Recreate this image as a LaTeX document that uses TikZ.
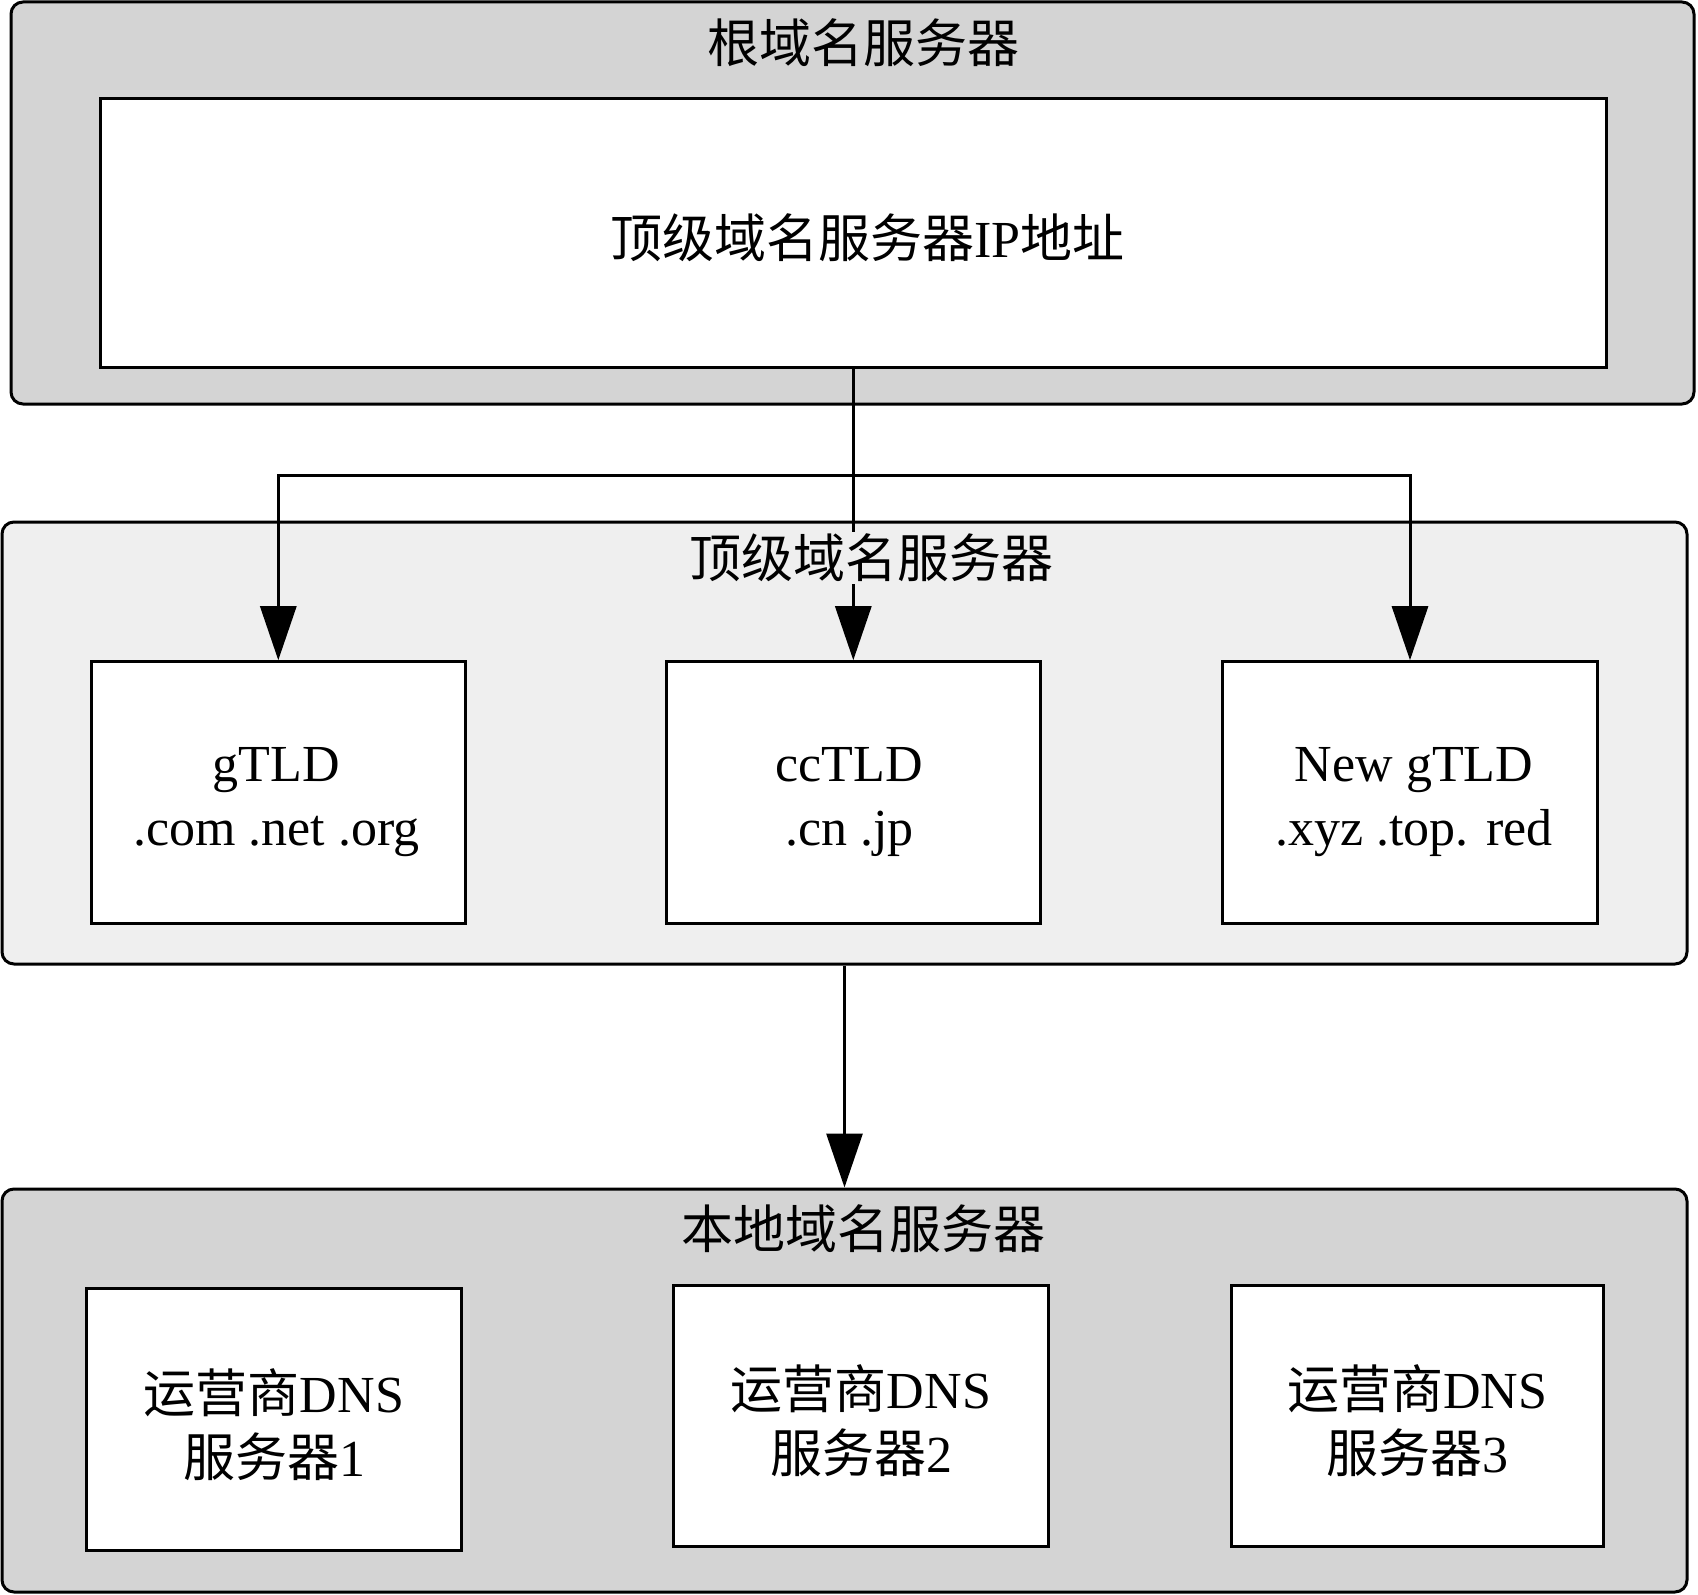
\documentclass[tikz,border=0pt]{standalone}
\usepackage{fontspec}
\setmainfont{Liberation Serif}
\newfontfamily\cjk{Noto Sans CJK SC}
\usetikzlibrary{arrows.meta}

\definecolor{darkpanel}{RGB}{212,212,212}
\definecolor{lightpanel}{RGB}{239,239,239}

\begin{document}
\begin{tikzpicture}[x=0.5pt,y=-0.5pt,
  every node/.style={font=\fontsize{26}{32}\selectfont},
  panel/.style={draw, line width=1.5pt, rounded corners=6pt, inner sep=0pt},
  box/.style={draw, line width=1.5pt, fill=white, inner sep=0pt},
  boxtext/.style={align=center, inner sep=0pt},
  title/.style={inner sep=1pt},
  arr/.style={line width=1.5pt, -{Triangle[width=18pt,length=27pt]}},
  link/.style={line width=1.5pt}
]
\useasboundingbox (0,0) rectangle (1698,1595);

% root level
\node[panel, fill=darkpanel, minimum width=841.5pt, minimum height=201pt] (root) at (852.5,203) {};
\node[title] (roottitle) at (863.5,43) {{\cjk 根域名服务器}};
\node[box, minimum width=753.2pt, minimum height=134.3pt,
  label={[boxtext, xshift=7pt, yshift=-2.5pt]center:{\cjk 顶级域名服务器}IP{\cjk 地址}}] (rootin) at (853.3,232.8) {};

% top-level domain servers
\node[panel, fill=lightpanel, minimum width=842.5pt, minimum height=221pt] (tld) at (844.5,743) {};
\node[box, minimum width=187.3pt, minimum height=131pt,
  label={[boxtext, xshift=-1pt, yshift=-4.5pt]center:gTLD\\.com .net .org}] (gtld) at (278.3,792.7) {};
\node[box, minimum width=187.3pt, minimum height=131pt,
  label={[boxtext, xshift=-2pt, yshift=-4.5pt]center:ccTLD\\.cn .jp}] (cctld) at (853.3,792.7) {};
\node[box, minimum width=187.3pt, minimum height=131pt,
  label={[boxtext, xshift=2pt, yshift=-4.5pt]center:New gTLD\\.xyz .top. red}] (newg) at (1410,792.7) {};

% local servers
\node[panel, fill=darkpanel, minimum width=842.5pt, minimum height=201.5pt] (local) at (844.5,1390.5) {};
\node[title] (localtitle) at (863.5,1229) {{\cjk 本地域名服务器}};
\node[box, minimum width=187.3pt, minimum height=131pt,
  label={[boxtext, yshift=-2.5pt]center:{\cjk 运营商}DNS\\{\cjk 服务器}1}] (isp1) at (274,1419.7) {};
\node[box, minimum width=187.3pt, minimum height=130.7pt,
  label={[boxtext, yshift=-2.5pt]center:{\cjk 运营商}DNS\\{\cjk 服务器}2}] (isp2) at (861,1415.7) {};
\node[box, minimum width=186.4pt, minimum height=130.7pt,
  label={[boxtext, yshift=-2.5pt]center:{\cjk 运营商}DNS\\{\cjk 服务器}3}] (isp3) at (1417.4,1415.7) {};

% connectors
\coordinate (split) at (853.3,475);
\draw[link] (rootin.south) -- (split);
\draw[arr] (split) -| (gtld.north);
\draw[arr] (split) -- (cctld.north);
\draw[arr] (split) -| (newg.north);
\draw[arr] (tld.south) -- (local.north);

% title drawn over the connector
\node[title, fill=lightpanel] (tldtitle) at (871.5,558) {{\cjk 顶级域名服务器}};
\end{tikzpicture}
\end{document}
